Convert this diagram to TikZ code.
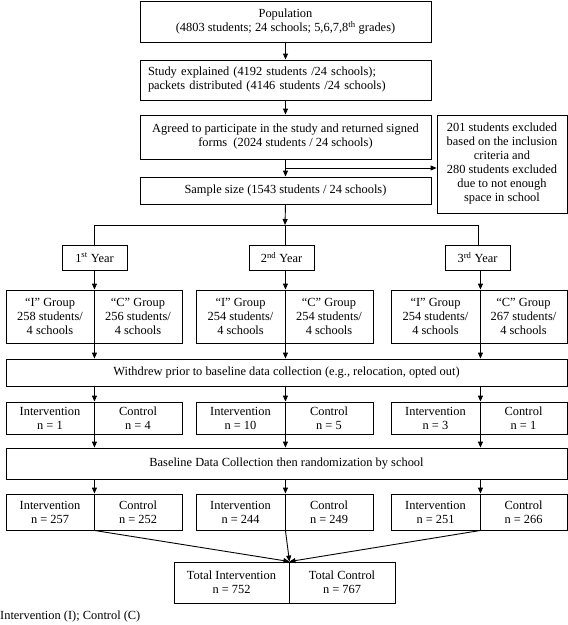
\documentclass[tikz,border=0pt]{standalone}
\usepackage{fontspec}
\setmainfont{Liberation Serif}
\usetikzlibrary{arrows.meta}
\begin{document}
\begin{tikzpicture}[x=1pt,y=-1pt,
  box/.style={draw, line width=0.9pt, inner sep=0pt, align=center,
    font=\fontsize{12.4}{14}\selectfont},
  arr/.style={-{Triangle[length=6pt,width=5pt]}, line width=0.9pt},
  ln/.style={line width=0.9pt}]
\useasboundingbox (0,0) rectangle (568,625);
% top column
\node[box, minimum width=291pt, minimum height=41pt] (pop) at (285.5,21.5)
  {Population\\(4803 students; 24 schools; 5,6,7,8\textsuperscript{th} grades)};
\node[box, minimum width=291pt, minimum height=40pt, text width=275pt, inner xsep=8pt, align=left] (expl) at (285.5,80)
  {Study explained (4192 students /24 schools);\\packets distributed (4146 students /24 schools)};
\node[box, minimum width=291pt, minimum height=44pt] (agree) at (285.5,137)
  {Agreed to participate in the study and returned signed\\forms~ (2024 students / 24 schools)};
\node[box, minimum width=130pt, minimum height=98pt] (excl) at (502,164)
  {201 students excluded\\based on the inclusion\\criteria and\\280 students excluded\\due to not enough\\space in school};
\node[box, minimum width=291pt, minimum height=27pt] (samp) at (285.5,190.5)
  {Sample size (1543 students / 24 schools)};
% years
\node[box, minimum width=65pt, minimum height=25pt] (y1) at (94.5,257.5) {1\textsuperscript{st} Year};
\node[box, minimum width=65pt, minimum height=25pt] (y2) at (281.5,257.5) {2\textsuperscript{nd} Year};
\node[box, minimum width=65pt, minimum height=25pt] (y3) at (477.5,257.5) {3\textsuperscript{rd} Year};
\coordinate (h1) at (94,225);
\coordinate (h2) at (285,225);
\coordinate (h3) at (478,225);
% groups
\node[box, minimum width=88pt, minimum height=53pt] (g1L) at (50,316.5) {“I” Group\\258 students/\\4 schools};
\node[box, minimum width=88pt, minimum height=53pt] (g1R) at (138,316.5) {“C” Group\\256 students/\\4 schools};
\node[box, minimum width=89pt, minimum height=53pt] (g2L) at (240.5,316.5) {“I” Group\\254 students/\\4 schools};
\node[box, minimum width=88pt, minimum height=53pt] (g2R) at (329,316.5) {“C” Group\\254 students/\\4 schools};
\node[box, minimum width=89pt, minimum height=53pt] (g3L) at (435.5,316.5) {“I” Group\\254 students/\\4 schools};
\node[box, minimum width=87pt, minimum height=53pt] (g3R) at (523.5,316.5) {“C” Group\\267 students/\\4 schools};
% withdrew
\node[box, minimum width=561pt, minimum height=27pt] (wd) at (286.5,372.5)
  {Withdrew prior to baseline data collection (e.g., relocation, opted out)};
\node[box, minimum width=88pt, minimum height=32pt] (w1L) at (50,418) {Intervention\\n = 1};
\node[box, minimum width=88pt, minimum height=32pt] (w1R) at (138,418) {Control\\n = 4};
\node[box, minimum width=89pt, minimum height=32pt] (w2L) at (240.5,418) {Intervention\\n = 10};
\node[box, minimum width=88pt, minimum height=32pt] (w2R) at (329,418) {Control\\n = 5};
\node[box, minimum width=89pt, minimum height=32pt] (w3L) at (435.5,418) {Intervention\\n = 3};
\node[box, minimum width=87pt, minimum height=32pt] (w3R) at (523.5,418) {Control\\n = 1};
% baseline
\node[box, minimum width=561pt, minimum height=31pt] (base) at (286.5,463.5)
  {Baseline Data Collection then randomization by school};
\node[box, minimum width=88pt, minimum height=36pt] (n1L) at (50,512) {Intervention\\n = 257};
\node[box, minimum width=88pt, minimum height=36pt] (n1R) at (138,512) {Control\\n = 252};
\node[box, minimum width=89pt, minimum height=36pt] (n2L) at (240.5,512) {Intervention\\n = 244};
\node[box, minimum width=88pt, minimum height=36pt] (n2R) at (329,512) {Control\\n = 249};
\node[box, minimum width=89pt, minimum height=36pt] (n3L) at (435.5,512) {Intervention\\n = 251};
\node[box, minimum width=87pt, minimum height=36pt] (n3R) at (523.5,512) {Control\\n = 266};
% total
\node[box, minimum width=115pt, minimum height=41pt] (tL) at (231.5,582.5) {Total Intervention\\n = 752};
\node[box, minimum width=106pt, minimum height=41pt] (tR) at (342,582.5) {Total Control\\n = 767};
\node[anchor=west, inner sep=0pt, font=\fontsize{12.4}{14}\selectfont] (foot) at (0,617) {Intervention (I); Control (C)};
% connectors
\draw[arr] (pop.south) -- (expl.north);
\draw[arr] (expl.south) -- (agree.north);
\draw[arr] (agree.south) -- (samp.north);
\coordinate (br) at (285.5,168);
\draw[arr] (br) -- (excl.west |- br);
\draw[arr] (samp.south) -- (h2);
\draw[ln] (h1) -- (h3);
\draw[ln] (h1) -- (h1 |- y1.north);
\draw[ln] (h2) -- (h2 |- y2.north);
\draw[ln] (h3) -- (h3 |- y3.north);
\draw[arr] (g1L.north east |- y1.south) -- (g1L.north east);
\draw[arr] (g2L.north east |- y2.south) -- (g2L.north east);
\draw[arr] (g3L.north east |- y3.south) -- (g3L.north east);
\foreach \c in {1,2,3}{
  \draw[arr] (g\c L.south east) -- (g\c L.south east |- wd.north);
  \draw[arr] (w\c L.north east |- wd.south) -- (w\c L.north east);
  \draw[arr] (w\c L.south east) -- (w\c L.south east |- base.north);
  \draw[arr] (n\c L.north east |- base.south) -- (n\c L.north east);
  \draw[arr] (n\c L.south east) -- (tL.north east);
}
\end{tikzpicture}
\end{document}
